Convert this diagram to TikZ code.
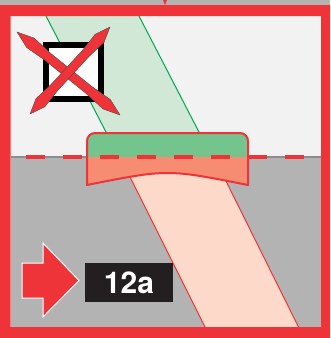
\documentclass[tikz,border=0pt]{standalone}
\usepackage{fontspec}
\setsansfont{TeX Gyre Heros}
\usetikzlibrary{calc}
\definecolor{framered}{RGB}{238,52,56}
\definecolor{skygray}{RGB}{242,242,242}
\definecolor{groundgray}{RGB}{179,179,179}
\definecolor{horizongray}{RGB}{140,140,140}
\definecolor{beamgreen}{RGB}{208,232,213}
\definecolor{edgegreen}{RGB}{0,166,81}
\definecolor{plategreen}{RGB}{115,196,141}
\definecolor{platesalmon}{RGB}{246,141,114}
\definecolor{beampink}{RGB}{253,217,201}
\definecolor{tagblack}{RGB}{35,31,32}
\tikzset{
  tagbox/.style={fill=tagblack, text=white, minimum width=88pt, minimum height=39pt,
    inner sep=0pt, font=\sffamily\bfseries\fontsize{30}{30}\selectfont},
  crossbar/.style={fill=framered, draw=black!70, line width=0.4pt, line join=round}
}
\def\platepath{(87,185) -- (87,141) to[out=90,in=180] (95,133) -- (240,133)
  to[out=0,in=90] (248,141) -- (248,185) .. controls (167.5,169) .. (87,185) -- cycle}
\begin{document}
\begin{tikzpicture}[x=1pt, y=-1pt]
    \useasboundingbox (0,0) rectangle (330,338);
    % sky and ground
    \fill[groundgray] (0,0) rectangle (330,5);
    \fill[skygray] (10.7,16) rectangle (321,157);
    \fill[groundgray] (10.7,157) rectangle (321,327);
    % beam coming in
    \fill[beamgreen] (46,16) -- (139,16) -- (200,134) -- (107,134) -- cycle;
    \draw[edgegreen, line width=1] (46,16) -- (107,134) (139,16) -- (200,134);
    % beam going out
    \fill[beampink] (126.5,170) -- (220.5,170) -- (298.5,327) -- (205,327) -- cycle;
    \draw[framered, line width=1] (126.5,170) -- (205,327) (220.5,170) -- (298.5,327);
    \draw[horizongray, line width=1.5] (10.7,157) -- (321,157);
    % plate
    \fill[platesalmon] \platepath;
    \begin{scope}
        \clip \platepath;
        \fill[plategreen] (80,120) rectangle (260,157);
    \end{scope}
    \draw[framered, line width=2, line join=round] \platepath;
    \draw[framered, line width=4, dash pattern=on 19pt off 18pt] (26,157) -- (321,157);
    % crossed box
    \draw[line width=6, fill=white] (46,45) rectangle (101,99);
    \coordinate (a1) at (17,32);
    \coordinate (b1) at (120,115);
    \coordinate (a2) at (110,27);
    \coordinate (b2) at (30,114);
    \foreach \a/\b in {a1/b1, a2/b2}
        \fill[crossbar] (\a) -- ($(\a)!0.13!(\b)!6pt!90:(\b)$) -- ($(\a)!0.3!(\b)!4.5pt!90:(\b)$)
            -- ($(\b)!0.3!(\a)!4.5pt!-90:(\a)$) -- ($(\b)!0.13!(\a)!6pt!-90:(\a)$) -- (\b)
            -- ($(\b)!0.13!(\a)!6pt!90:(\a)$) -- ($(\b)!0.3!(\a)!4.5pt!90:(\a)$)
            -- ($(\a)!0.3!(\b)!4.5pt!-90:(\b)$) -- ($(\a)!0.13!(\b)!6pt!-90:(\b)$) -- cycle;
    % arrow and tag
    \filldraw[fill=framered, draw=white, line width=1]
        (22,263) -- (43,263) -- (43,243) -- (79,280.5) -- (43,317) -- (43,298) -- (22,298) -- cycle;
    \node[tagbox] (tag) at (129,282.5) {12a};
    % frame
    \fill[framered, even odd rule] (0,5) rectangle (330,338) (10.7,16) rectangle (321,327);
    \fill[framered] (163,0) -- (167,0) -- (165,5) -- cycle;
\end{tikzpicture}
\end{document}
